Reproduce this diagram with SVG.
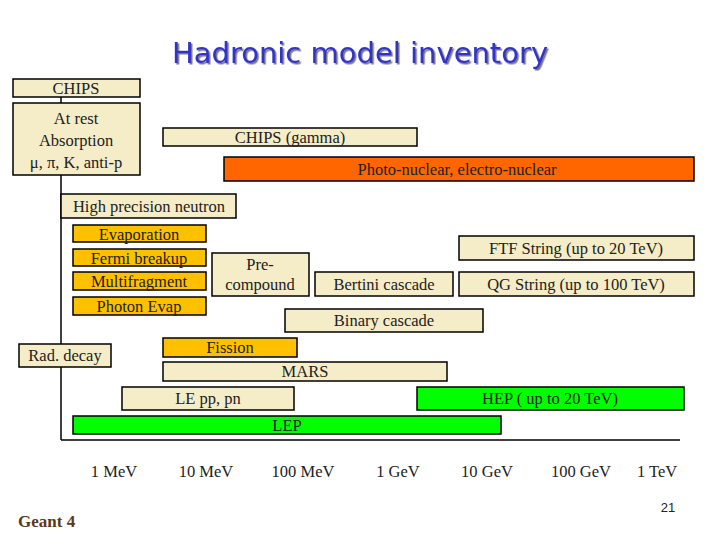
<svg xmlns="http://www.w3.org/2000/svg" width="720" height="540" viewBox="0 0 720 540">
<defs><filter id="sh" x="-5%" y="-20%" width="110%" height="150%"><feDropShadow dx="1.5" dy="1.5" stdDeviation="0.6" flood-color="#777"/></filter></defs>
<style>
rect{stroke:#000;stroke-width:1.5}
.b{fill:#f5ecc8}.o{fill:#ff6600}.g{fill:#ffc000}.gr{fill:#00ff00}
text{font-family:"Liberation Serif",serif;font-size:16.5px;fill:#222;text-anchor:middle}
</style>
<rect width="720" height="540" fill="#fff" style="stroke:none"/>
<text x="360" y="63" filter="url(#sh)" style="font-family:'DejaVu Sans',sans-serif;font-size:29px;fill:#3333cc">Hadronic model inventory</text>
<g id="connectors" stroke="#000" stroke-width="1.5">
<line x1="61" y1="97" x2="61" y2="103"/>
<line x1="61" y1="175" x2="61" y2="440"/>
<line x1="61" y1="440" x2="680" y2="440"/>
</g>
<g id="chips"><rect class="b" x="13" y="79" width="127" height="18"/><text x="76" y="94">CHIPS</text></g>
<g id="atrest"><rect class="b" x="13" y="103" width="127" height="72"/><text x="76" y="124">At rest</text><text x="76" y="146">Absorption</text><text x="76" y="168">μ, π, K, anti-p</text></g>
<g id="chipsgamma"><rect class="b" x="163" y="128" width="254" height="18"/><text x="290" y="143">CHIPS (gamma)</text></g>
<g id="photonuclear"><rect class="o" x="224" y="157" width="470" height="24"/><text x="457" y="175">Photo-nuclear, electro-nuclear</text></g>
<g id="hpn"><rect class="b" x="61" y="194" width="175" height="24"/><text x="149" y="212">High precision neutron</text></g>
<g id="evap"><rect class="g" x="73" y="225" width="133" height="17"/><text x="139" y="240">Evaporation</text></g>
<g id="fermi"><rect class="g" x="73" y="249" width="133" height="17"/><text x="139" y="264">Fermi breakup</text></g>
<g id="multi"><rect class="g" x="73" y="272" width="133" height="18"/><text x="139" y="287">Multifragment</text></g>
<g id="photonevap"><rect class="g" x="73" y="297" width="133" height="18"/><text x="139" y="312">Photon Evap</text></g>
<g id="precompound"><rect class="b" x="212" y="253" width="97" height="43"/><text x="260" y="270">Pre-</text><text x="260" y="290">compound</text></g>
<g id="bertini"><rect class="b" x="315" y="272" width="138" height="24"/><text x="384" y="290">Bertini cascade</text></g>
<g id="ftf"><rect class="b" x="459" y="236" width="235" height="24"/><text x="576" y="254">FTF String (up to 20 TeV)</text></g>
<g id="qg"><rect class="b" x="459" y="272" width="235" height="24"/><text x="576" y="290">QG String (up to 100 TeV)</text></g>
<g id="binary"><rect class="b" x="285" y="309" width="198" height="23"/><text x="384" y="326">Binary cascade</text></g>
<g id="raddecay"><rect class="b" x="19" y="344" width="92" height="23"/><text x="65" y="361">Rad. decay</text></g>
<g id="fission"><rect class="g" x="163" y="338" width="134" height="19"/><text x="230" y="353">Fission</text></g>
<g id="mars"><rect class="b" x="163" y="362" width="284" height="19"/><text x="305" y="377">MARS</text></g>
<g id="lepp"><rect class="b" x="122" y="387" width="172" height="23"/><text x="208" y="404">LE pp, pn</text></g>
<g id="hep"><rect class="gr" x="417" y="387" width="267" height="23"/><text x="550" y="404">HEP  ( up to 20 TeV)</text></g>
<g id="lep"><rect class="gr" x="73" y="416" width="428" height="18"/><text x="287" y="431">LEP</text></g>
<g id="axis">
<text x="114" y="477">1 MeV</text><text x="206" y="477">10 MeV</text><text x="303" y="477">100 MeV</text><text x="398" y="477">1 GeV</text><text x="487" y="477">10 GeV</text><text x="581" y="477">100 GeV</text><text x="657" y="477">1 TeV</text>
</g>
<text x="668" y="512" style="font-family:'Liberation Sans',sans-serif;font-size:13px">21</text>
<text x="18" y="527" style="text-anchor:start;font-weight:bold;font-size:17px;fill:#5a3a1a">Geant 4</text>
</svg>
